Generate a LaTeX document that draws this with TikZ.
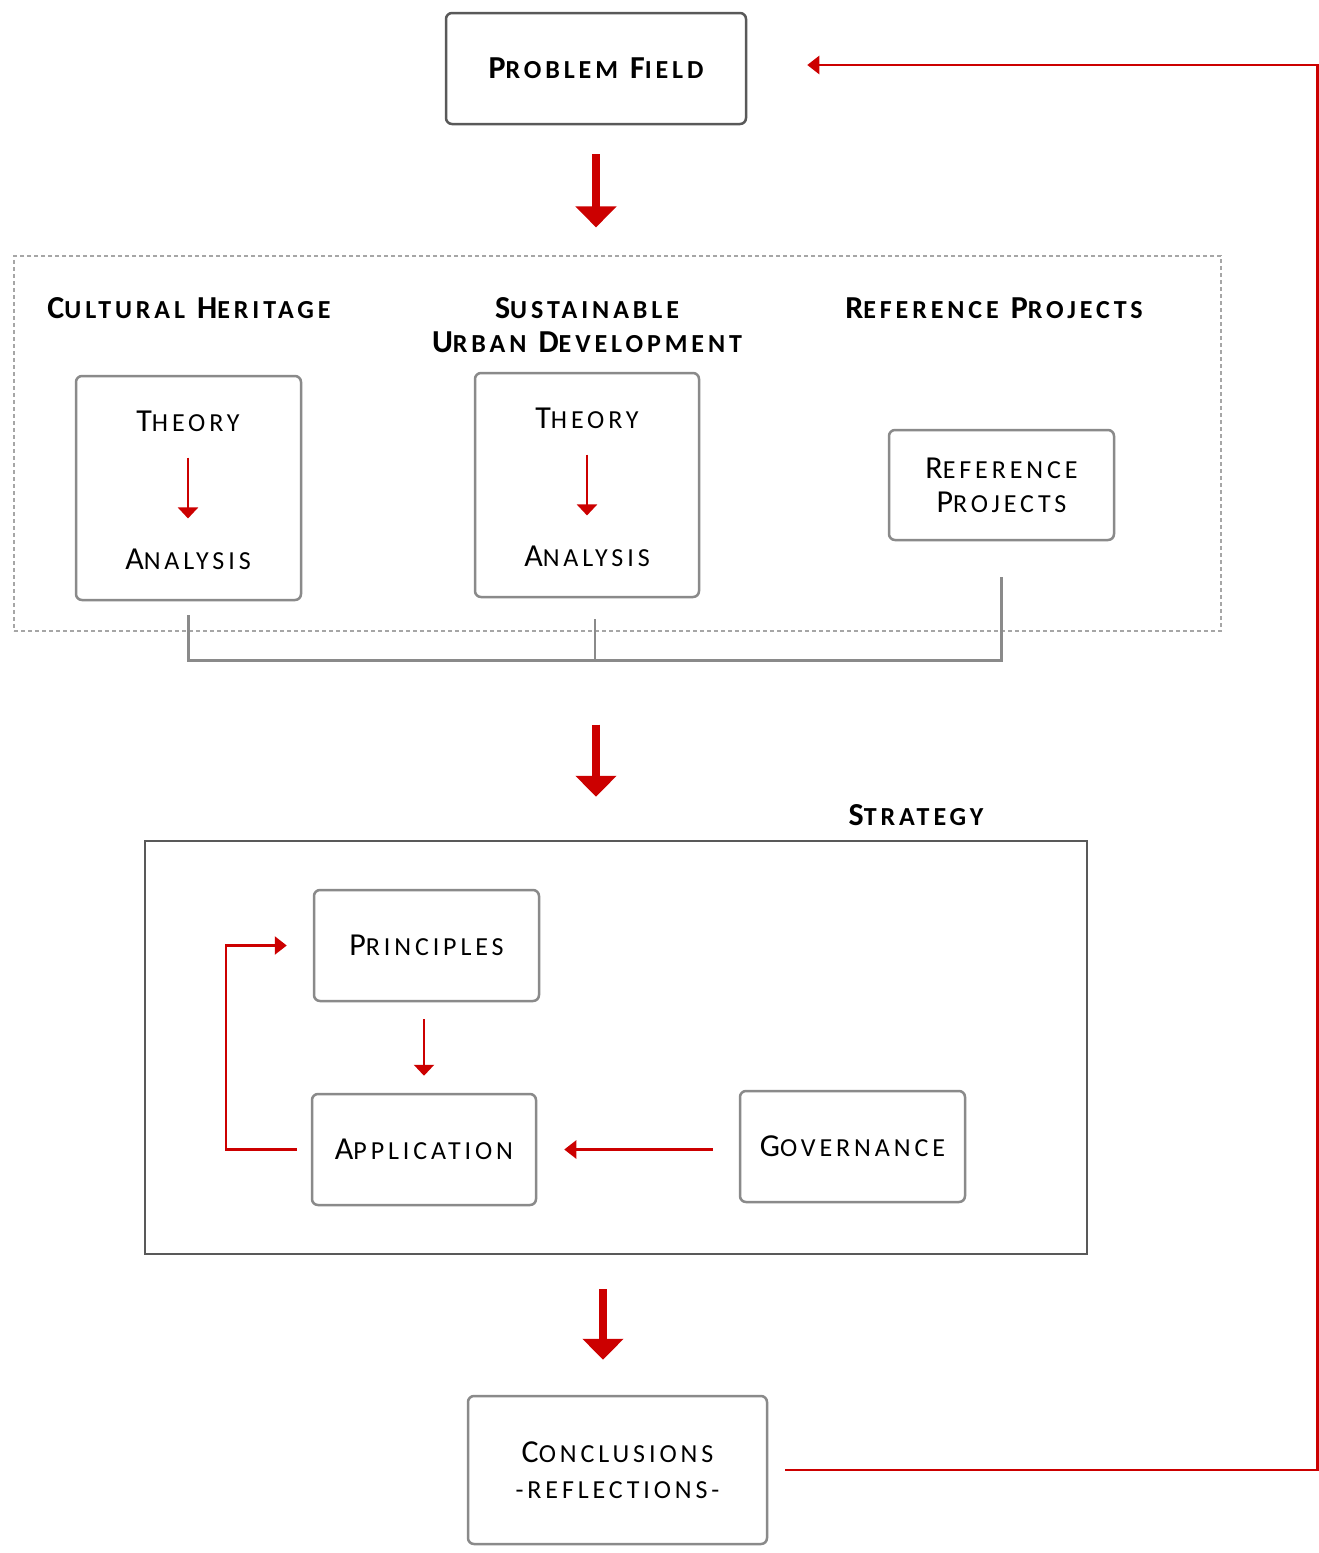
\documentclass[tikz,border=0pt]{standalone}
\usepackage{fontspec}
\setmainfont{Carlito}
\newfontfamily\labfont[LetterSpace=15]{Carlito}
\usetikzlibrary{arrows.meta,calc}
\definecolor{myred}{HTML}{CC0000}
\definecolor{boxgray}{HTML}{8A8A8A}
\definecolor{darkbox}{HTML}{595959}
\definecolor{dashgray}{HTML}{A6A6A6}
\newcommand{\bigsz}{\fontsize{32}{34}\selectfont}
\newcommand{\sml}[1]{{\fontsize{26}{30}\selectfont #1}}
\begin{document}
\begin{tikzpicture}[x=1pt,y=-1pt,
  lbl/.style={font=\labfont\bigsz, inner sep=0pt, align=center, text=black},
  ttl/.style={font=\labfont\bfseries\bigsz, inner sep=0pt, align=center, text=black},
  rbox/.style={draw=boxgray, line width=2.5pt, rounded corners=6pt, fill=white, inner sep=0pt, align=center},
  pfbox/.style={draw=darkbox, line width=2.5pt, rounded corners=6pt, inner sep=0pt, align=center},
  grpbox/.style={draw=dashgray, line width=1.2pt, dash pattern=on 4pt off 3pt, inner sep=0pt},
  stratbox/.style={draw=darkbox, line width=2.5pt, inner sep=0pt},
  bigarrow/.style={draw=myred, line width=8pt, -{Triangle[width=40pt,length=21pt]}},
  smallarrow/.style={draw=myred, line width=2.2pt, -{Triangle[width=20pt,length=11pt]}},
  medarrow/.style={draw=myred, line width=2.5pt, -{Triangle[width=18pt,length=12pt]}},
  bracket/.style={draw=boxgray, line width=2.5pt},
]
\useasboundingbox[fill=white] (0,0) rectangle (1319,1553);

% Problem field
\node[pfbox, minimum width=300pt, minimum height=111pt, font=\labfont\bfseries\bigsz] (pf) at (596,68.5) {P\sml{ROBLEM} F\sml{IELD}};

% Group of inputs
\node[grpbox, minimum width=1207pt, minimum height=375pt] (grp) at (617.5,443.5) {};
\node[ttl] (tch) at (189,308) {C\sml{ULTURAL} H\sml{ERITAGE}};
\node[ttl] (tsud) at (587,325) {S\sml{USTAINABLE}\\U\sml{RBAN} D\sml{EVELOPMENT}};
\node[ttl] (trp) at (994,308) {R\sml{EFERENCE} P\sml{ROJECTS}};

\node[rbox, minimum width=225pt, minimum height=224pt] (b1) at (188.5,488) {};
\node[lbl] (th1) at (188,421) {T\sml{HEORY}};
\node[lbl] (an1) at (188,559) {A\sml{NALYSIS}};
\draw[smallarrow, shorten <=26pt, shorten >=30pt] (th1) -- (an1);

\node[rbox, minimum width=224pt, minimum height=224pt] (b2) at (587,485) {};
\node[lbl] (th2) at (587,418) {T\sml{HEORY}};
\node[lbl] (an2) at (587,556) {A\sml{NALYSIS}};
\draw[smallarrow, shorten <=26pt, shorten >=30pt] (th2) -- (an2);

\node[rbox, minimum width=225pt, minimum height=110pt, font=\labfont\bigsz] (b3) at (1001.5,485) {R\sml{EFERENCE}\\P\sml{ROJECTS}};

% bracket
\draw[bracket] ($(b1.south)+(0,14)$) -- ++(0,45) -| ($(b3.south)+(0,36)$);
\draw[bracket] ($(b2.south)+(8,21)$) -- ++(0,41);

% Big arrows
\draw[bigarrow] ($(pf.south)+(0,29)$) -- ($(pf.south |- grp.north)+(0,-28)$);

% Strategy
\node[stratbox, minimum width=942pt, minimum height=413pt] (sb) at (616,1047.5) {};
\node[ttl] (tst) at (916,815) {S\sml{TRATEGY}};
\draw[bigarrow] ($(pf.south |- grp.south)+(0,93)$) -- ($(pf.south |- sb.north)+(0,-43)$);

\node[rbox, minimum width=225pt, minimum height=111pt, font=\labfont\bigsz] (pr) at (426.5,945.5) {P\sml{RINCIPLES}};
\node[rbox, minimum width=224pt, minimum height=111pt, font=\labfont\bigsz] (ap) at (424,1149.5) {A\sml{PPLICATION}};
\node[rbox, minimum width=225pt, minimum height=111pt, font=\labfont\bigsz] (gv) at (852.5,1146.5) {G\sml{OVERNANCE}};

\draw[smallarrow, shorten <=17pt, shorten >=17pt] (pr.south -| ap.north) -- (ap.north);
\draw[medarrow, shorten <=26pt, shorten >=27pt] (gv.west |- ap.east) -- (ap.east);
\draw[medarrow] ($(ap.west)+(-14,0)$) -| ($(pr.west)+(-87,0)$) -- ($(pr.west)+(-26,0)$);

% Conclusions
\node[rbox, minimum width=299pt, minimum height=148pt, font=\labfont\bigsz] (cc) at (617.5,1470) {C\sml{ONCLUSIONS}\\[2pt]\sml{-REFLECTIONS-}};
\draw[bigarrow] ($(sb.south)+(-13,34)$) -- ($(sb.south |- cc.north)+(-13,-35)$);

% Feedback
\draw[medarrow] ($(cc.east)+(17,0)$) -- ++(532,0) |- ($(pf.east)+(60,-3.5)$);
\end{tikzpicture}
\end{document}
